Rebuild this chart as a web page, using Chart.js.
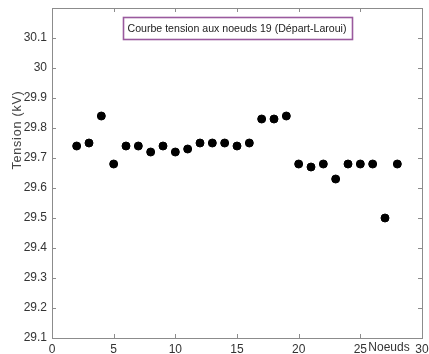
<!DOCTYPE html>
<html>
<head>
<meta charset="utf-8">
<script src="https://cdn.jsdelivr.net/npm/chart.js@4.4.0/dist/chart.umd.min.js"></script>
<style>
html,body{margin:0;padding:0;background:#fff;}
#wrap{width:429px;height:354px;position:relative;}
</style>
</head>
<body>
<div id="wrap"><canvas id="c" width="429" height="354"></canvas></div>
<script>
const nodes = [2,3,4,5,6,7,8,9,10,11,12,13,14,15,16,17,18,19,20,21,22,23,24,25,26,27,28];
const tension = [29.74,29.75,29.84,29.68,29.74,29.74,29.72,29.74,29.72,29.73,29.75,29.75,29.75,29.74,29.75,29.83,29.83,29.84,29.68,29.67,29.68,29.63,29.68,29.68,29.68,29.50,29.68];
const xTicks = [0,5,10,15,20,25,30];
const yTicks = [29.1,29.2,29.3,29.4,29.5,29.6,29.7,29.8,29.9,30.0,30.1,30.2];
const yLabelMax = 30.1;
const titleText = 'Courbe tension aux noeuds 19 (Départ-Laroui)';
const yTitle = 'Tension (kV)';
const xTitle = 'Noeuds';

const FONT = '"Liberation Sans", Arial, sans-serif';

const decor = {
  id: 'decor',
  afterDraw(chart) {
    const ctx = chart.ctx;
    const a = chart.chartArea;
    const xs = chart.scales.x, ys = chart.scales.y;
    ctx.save();
    // box
    ctx.strokeStyle = '#8c8c8c';
    ctx.lineWidth = 1;
    ctx.strokeRect(Math.round(a.left)+0.5, Math.round(a.top)+0.5, Math.round(a.right-a.left), Math.round(a.bottom-a.top));
    // inward ticks
    const tl = 4;
    ctx.beginPath();
    xTicks.forEach(v => {
      const px = Math.round(xs.getPixelForValue(v)) + 0.5;
      ctx.moveTo(px, a.bottom); ctx.lineTo(px, a.bottom - tl);
      ctx.moveTo(px, a.top); ctx.lineTo(px, a.top + tl);
    });
    yTicks.forEach(v => {
      const py = Math.round(ys.getPixelForValue(v)) + 0.5;
      ctx.moveTo(a.left, py); ctx.lineTo(a.left + tl, py);
      ctx.moveTo(a.right, py); ctx.lineTo(a.right - tl, py);
    });
    ctx.stroke();
    // title box
    ctx.font = '11px ' + FONT;
    const tw = ctx.measureText(titleText).width;
    const cx = (a.left + a.right) / 2;
    const bw = 229, bh = 22;
    const bx = Math.round(cx - bw/2) + 0.5, by = 17.5;
    ctx.fillStyle = '#fff';
    ctx.fillRect(bx, by, bw, bh);
    ctx.strokeStyle = '#9a5a9e';
    ctx.lineWidth = 1.6;
    ctx.strokeRect(bx, by, bw, bh);
    ctx.fillStyle = '#222';
    ctx.textAlign = 'center';
    ctx.textBaseline = 'middle';
    const sx = Math.min(1, 219 / tw);
    ctx.save();
    ctx.translate(cx, by + bh/2 + 0.5);
    ctx.scale(sx, 1);
    ctx.fillText(titleText, 0, 0);
    ctx.restore();
    // y title
    ctx.save();
    ctx.font = '12.5px ' + FONT;
    ctx.fillStyle = '#444';
    try { ctx.letterSpacing = '0.8px'; } catch (e) {}
    ctx.translate(18, 130);
    ctx.rotate(-Math.PI/2);
    ctx.textAlign = 'center';
    ctx.textBaseline = 'middle';
    ctx.fillText(yTitle, 0, 0);
    ctx.restore();
    // x title
    ctx.font = '12px ' + FONT;
    ctx.fillStyle = '#333';
    ctx.textAlign = 'center';
    ctx.textBaseline = 'middle';
    ctx.fillText(xTitle, 389, 348);
    ctx.restore();
  }
};

new Chart(document.getElementById('c'), {
  type: 'scatter',
  data: {
    datasets: [{
      data: nodes.map((n, i) => ({x: n, y: tension[i]})),
      backgroundColor: '#000',
      borderColor: '#000',
      pointRadius: 4,
      pointHoverRadius: 4,
      showLine: false
    }]
  },
  options: {
    responsive: false,
    animation: false,
    events: [],
    layout: {padding: {top: 8, right: 7, left: 0, bottom: 0}},
    plugins: {legend: {display: false}, tooltip: {enabled: false}},
    scales: {
      x: {
        type: 'linear', min: 0, max: 30,
        afterFit(s) { s.height = 16; s.paddingLeft = 0; s.paddingRight = 0; },
        afterBuildTicks(s) { s.ticks = xTicks.map(v => ({value: v})); },
        grid: {display: false, drawTicks: false},
        border: {display: false},
        ticks: {
          padding: 4,
          color: '#333',
          font: {family: FONT, size: 12},
          maxRotation: 0,
          callback: v => String(v)
        }
      },
      y: {
        type: 'linear', min: 29.1, max: 30.2,
        afterFit(s) { s.width = 52; s.paddingTop = 0; s.paddingBottom = 0; },
        afterBuildTicks(s) { s.ticks = yTicks.map(v => ({value: v})); },
        grid: {display: false, drawTicks: false},
        border: {display: false},
        ticks: {
          padding: 5,
          color: '#333',
          font: {family: FONT, size: 12},
          callback: v => (v > yLabelMax + 1e-6 ? '' : String(Math.round(v * 10) / 10))
        }
      }
    }
  },
  plugins: [decor]
});
</script>
</body>
</html>
